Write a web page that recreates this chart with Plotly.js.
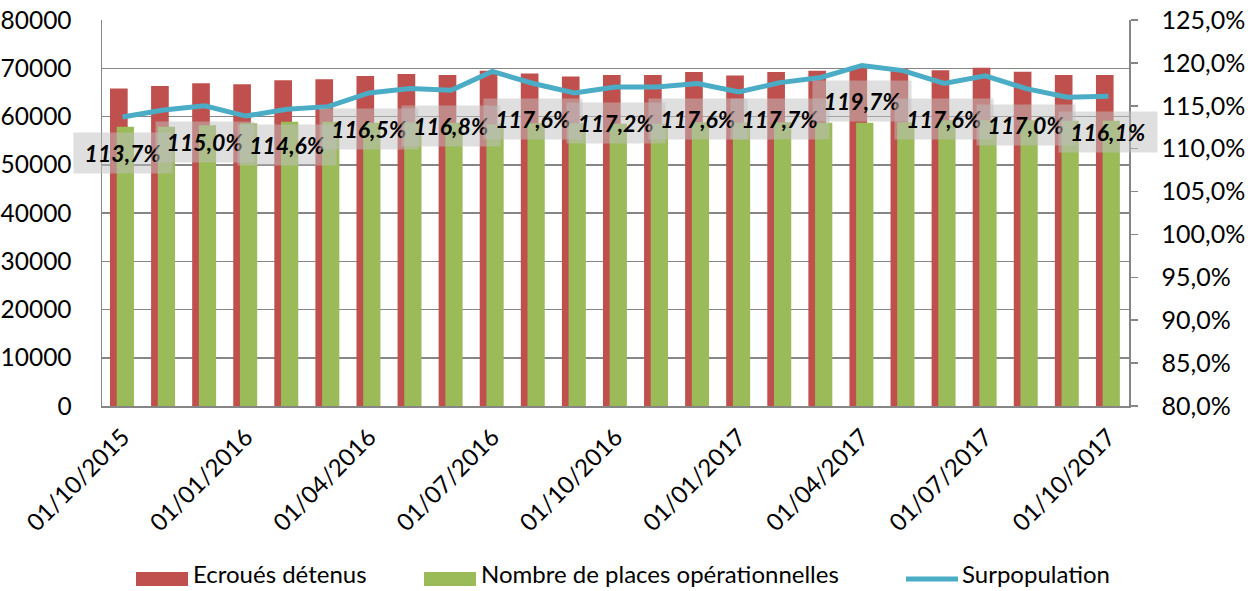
<!DOCTYPE html>
<html>
<head>
<meta charset="utf-8">
<script src="https://cdn.plot.ly/plotly-3.0.1.min.js"></script>
<style>html,body{margin:0;padding:0;background:#fff;}#chart{width:1251px;height:591px;}</style>
</head>
<body>
<div id="chart"></div>
<script>
var categories = ["01/10/2015","01/11/2015","01/12/2015","01/01/2016","01/02/2016","01/03/2016","01/04/2016","01/05/2016","01/06/2016","01/07/2016","01/08/2016","01/09/2016","01/10/2016","01/11/2016","01/12/2016","01/01/2017","01/02/2017","01/03/2017","01/04/2017","01/05/2017","01/06/2017","01/07/2017","01/08/2017","01/09/2017","01/10/2017"];
var ecroues = [65800,66300,66900,66700,67500,67700,68400,68800,68600,69500,68900,68300,68600,68600,69200,68500,69200,69500,70300,70000,69600,70100,69300,68600,68600];
var places = [57900,57900,58200,58600,58900,58900,58700,58800,58700,58400,58600,58600,58500,58500,58800,58700,58800,58700,58700,58800,59200,59200,59200,59100,59100];
var surpopulation = [113.7,114.5,115.0,113.8,114.6,114.9,116.5,117.0,116.8,119.0,117.6,116.5,117.2,117.2,117.6,116.6,117.7,118.3,119.7,119.1,117.6,118.5,117.0,116.0,116.1];
var tickLabels = ["01/10/2015","01/01/2016","01/04/2016","01/07/2016","01/10/2016","01/01/2017","01/04/2017","01/07/2017","01/10/2017"];
var seriesNames = ["Ecroués détenus","Nombre de places opérationnelles","Surpopulation"];

var RED = "#C0504D", GREEN = "#9BBB59", BLUE = "#4BACC6", GRID = "#868686";
var FONT = "Lato, 'Open Sans', sans-serif";

var traces = [
  {type:"bar", x:categories, y:ecroues, name:seriesNames[0], marker:{color:RED}, offset:-0.305, width:0.43, hoverinfo:"none", showlegend:false},
  {type:"bar", x:categories, y:places, name:seriesNames[1], marker:{color:GREEN}, offset:-0.142, width:0.42, hoverinfo:"none", showlegend:false},
  {type:"scatter", mode:"lines", x:categories, y:surpopulation, yaxis:"y2", name:seriesNames[2], line:{color:BLUE, width:5}, hoverinfo:"none", showlegend:false}
];

var annotations = [];
for (var i = 0; i < categories.length; i += 2) {
  annotations.push({
    x: categories[i], y: surpopulation[i], xref:"x", yref:"y2",
    text: surpopulation[i].toFixed(1).replace(".", ",") + "%",
    showarrow:false, yshift:-36, width:96, height:38,
    bgcolor:"rgba(191,191,191,0.5)", borderpad:1,
    font:{family:FONT, size:23, color:"#000", weight:"bold", style:"italic"}
  });
}

// custom legend (pixel -> paper conversion)
var L = 102, R = 1129, T = 20, B = 406;
function px(x){ return (x - L) / (R - L); }
function py(y){ return (B - y) / (B - T); }
var shapes = [
  {type:"rect", xref:"paper", yref:"paper", x0:px(136), x1:px(188), y0:py(586), y1:py(572), fillcolor:RED, line:{width:0}},
  {type:"rect", xref:"paper", yref:"paper", x0:px(424), x1:px(476), y0:py(586), y1:py(572), fillcolor:GREEN, line:{width:0}},
  {type:"line", xref:"paper", yref:"paper", x0:px(906), x1:px(958), y0:py(579), y1:py(579), line:{color:BLUE, width:5}}
];
var legendX = [192, 480, 961];
for (var k = 0; k < 3; k++) {
  annotations.push({xref:"paper", yref:"paper", x:px(legendX[k]), y:py(589), xanchor:"left", yanchor:"bottom",
    text:seriesNames[k], showarrow:false, borderpad:0, font:{family:FONT, size:24, color:"#000"}});
}

var layout = {
  width:1251, height:591,
  margin:{l:L, r:1251-R, t:T, b:591-B},
  paper_bgcolor:"#fff", plot_bgcolor:"#fff",
  separators:", ",
  barmode:"overlay",
  font:{family:FONT, color:"#000"},
  showlegend:false,
  xaxis:{type:"category", range:[-0.5, categories.length-0.5], tickvals:tickLabels, ticktext:tickLabels,
    tickangle:-45, tickfont:{family:FONT, size:24, color:"#000"}, showgrid:false, ticks:"",
    showline:true, linecolor:GRID, linewidth:1.5, zeroline:false, ticklabelstandoff:6},
  yaxis:{range:[0,80000], dtick:10000, tickformat:"d", gridcolor:GRID, gridwidth:1.5,
    showline:true, linecolor:GRID, linewidth:1.5, zeroline:false, ticks:"",
    tickfont:{family:FONT, size:24.5, color:"#000"}, ticklabelstandoff:24},
  yaxis2:{overlaying:"y", side:"right", range:[80,125], dtick:5, tickformat:".1f", ticksuffix:"%",
    showgrid:false, showline:true, linecolor:GRID, linewidth:1.5, zeroline:false,
    ticks:"outside", ticklen:7, tickcolor:GRID, tickwidth:1.5,
    tickfont:{family:FONT, size:25, color:"#000"}, ticklabelstandoff:19},
  shapes:shapes,
  annotations:annotations
};

Plotly.newPlot("chart", traces, layout, {displayModeBar:false, staticPlot:true});
</script>
</body>
</html>
